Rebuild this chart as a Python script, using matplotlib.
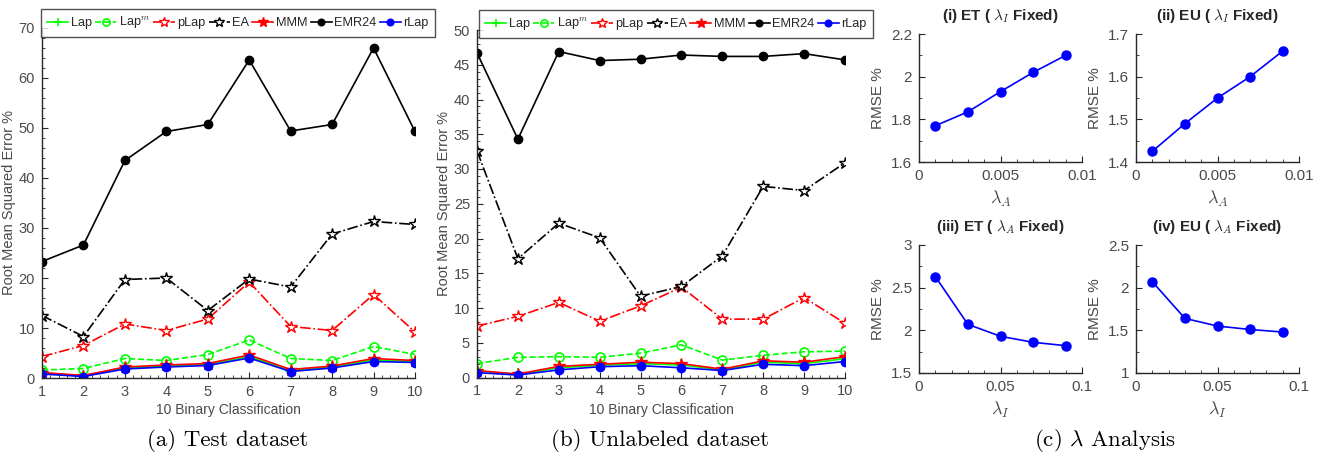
import matplotlib
matplotlib.use("Agg")
import matplotlib.pyplot as plt
from matplotlib.ticker import MultipleLocator, AutoMinorLocator

plt.rcParams['font.family'] = ['Liberation Sans', 'DejaVu Sans']
plt.rcParams['mathtext.fontset'] = 'cm'

# ---------------- data ----------------
classes = [1, 2, 3, 4, 5, 6, 7, 8, 9, 10]
series_names = ["Lap", "Lap$^{m}$", "pLap", "EA", "MMM", "EMR24", "rLap"]

test_lap   = [1.0, 0.4, 2.0, 2.4, 2.7, 4.3, 1.5, 2.2, 3.6, 3.3]
test_lapm  = [1.6, 1.9, 3.9, 3.5, 4.7, 7.6, 3.9, 3.5, 6.3, 4.7]
test_plap  = [4.3, 6.5, 10.8, 9.5, 11.8, 19.2, 10.3, 9.5, 16.7, 9.2]
test_ea    = [12.5, 8.3, 19.7, 20.0, 13.5, 19.8, 18.2, 28.8, 31.3, 30.7]
test_mmm   = [1.1, 0.5, 2.2, 2.6, 2.9, 4.6, 1.7, 2.4, 3.9, 3.5]
test_emr   = [23.3, 26.6, 43.5, 49.3, 50.7, 63.6, 49.4, 50.7, 66.0, 49.3]
test_rlap  = [0.8, 0.3, 1.8, 2.2, 2.5, 4.0, 1.3, 2.0, 3.3, 3.1]

unl_lap    = [0.9, 0.45, 1.4, 1.75, 2.0, 1.8, 1.1, 2.2, 2.0, 2.7]
unl_lapm   = [2.0, 2.9, 3.0, 2.9, 3.5, 4.7, 2.5, 3.2, 3.7, 3.8]
unl_plap   = [7.4, 8.8, 10.8, 8.1, 10.3, 13.0, 8.4, 8.4, 11.5, 7.8]
unl_ea     = [32.6, 17.1, 22.2, 20.1, 11.7, 13.1, 17.5, 27.5, 26.9, 30.9]
unl_mmm    = [1.0, 0.5, 1.6, 1.9, 2.2, 2.0, 1.2, 2.4, 2.2, 3.0]
unl_emr    = [46.7, 34.3, 46.9, 45.6, 45.8, 46.4, 46.2, 46.2, 46.6, 45.7]
unl_rlap   = [0.7, 0.35, 1.1, 1.55, 1.7, 1.4, 1.0, 1.9, 1.7, 2.3]

lambda_a = [0.001, 0.003, 0.005, 0.007, 0.009]
lambda_i = [0.01, 0.03, 0.05, 0.07, 0.09]
et_fixed_i = [1.77, 1.835, 1.93, 2.02, 2.10]
eu_fixed_i = [1.425, 1.49, 1.55, 1.60, 1.66]
et_fixed_a = [2.63, 2.07, 1.93, 1.86, 1.82]
eu_fixed_a = [2.07, 1.64, 1.55, 1.51, 1.48]

captions = ["(a) Test dataset", "(b) Unlabeled dataset", r"(c) $\lambda$ Analysis"]

# ---------------- figure ----------------
W, H = 1320, 459
fig = plt.figure(figsize=(W / 100, H / 100), dpi=100)

def px_axes(left, right, top, bottom):
    return fig.add_axes([left / W, 1 - bottom / H, (right - left) / W, (bottom - top) / H])

tick_col = '#4a4a4a'

def style(ax, labelsize=10.5):
    for s in ['top', 'right']:
        ax.spines[s].set_visible(False)
    for s in ['left', 'bottom']:
        ax.spines[s].set_color('#262626')
        ax.spines[s].set_linewidth(1.0)
    ax.tick_params(which='both', direction='in', colors='#262626', labelcolor=tick_col,
                   labelsize=labelsize)
    ax.tick_params(which='major', length=4, pad=5)
    ax.tick_params(which='minor', length=2)

styles = [
    dict(color=(0, 1, 0), ls='-', marker='+', ms=8, mew=1.2),
    dict(color=(0, 1, 0), ls='--', marker='o', ms=6.5, mfc='none', mew=1.2),
    dict(color=(1, 0, 0), ls='-.', marker='*', ms=9, mfc='white', mew=1.0),
    dict(color='black', ls='-.', marker='*', ms=9, mfc='white', mew=1.0),
    dict(color=(1, 0, 0), ls='-', marker='*', ms=9, mew=1.0),
    dict(color='black', ls='-', marker='o', ms=6),
    dict(color=(0, 0, 1), ls='-', marker='o', ms=6),
]

def big_panel(ax, data, ymax, ystep, legend_center):
    handles = []
    for vals, st, name in zip(data, styles, series_names):
        h, = ax.plot(classes, vals, lw=1.2, label=name, **st)
        handles.append(h)
    ax.set_xlim(1, 10)
    ax.set_ylim(0, ymax)
    ax.set_xticks(classes)
    ax.set_yticks(range(0, ymax + 1, ystep))
    ax.xaxis.set_minor_locator(MultipleLocator(0.2))
    ax.yaxis.set_minor_locator(AutoMinorLocator(5))
    style(ax)
    ax.set_xlabel("10 Binary Classification", fontsize=10, color=tick_col, labelpad=3)
    ax.set_ylabel("Root Mean Squared Error %", fontsize=10.5, color=tick_col, labelpad=2)
    leg = fig.legend(handles=handles, loc='center', ncol=7,
                     bbox_to_anchor=(legend_center[0] / W, 1 - legend_center[1] / H),
                     bbox_transform=fig.transFigure, fontsize=9.2, frameon=True,
                     fancybox=False, edgecolor='#262626', handlelength=1.65,
                     markerscale=0.8, handletextpad=0.2, columnspacing=0.25,
                     borderpad=0.45, borderaxespad=0)
    leg.get_frame().set_linewidth(1.0)
    for t in leg.get_texts():
        t.set_color('#262626')

axa = px_axes(42, 415, 28, 378)
big_panel(axa, [test_lap, test_lapm, test_plap, test_ea, test_mmm, test_emr, test_rlap],
          70, 10, (238, 23))

axb = px_axes(477, 845, 30, 377.5)
big_panel(axb, [unl_lap, unl_lapm, unl_plap, unl_ea, unl_mmm, unl_emr, unl_rlap],
          50, 5, (676, 24))

def small_panel(ax, x, y, title, xlabel, xlim, xticks, xticklabels, ylim, yticks, yticklabels):
    ax.plot(x, y, color=(0, 0, 1), lw=1.2, marker='o', ms=6.5)
    ax.set_xlim(*xlim)
    ax.set_ylim(*ylim)
    ax.set_xticks(xticks)
    ax.set_xticklabels(xticklabels)
    ax.set_yticks(yticks)
    ax.set_yticklabels(yticklabels)
    ax.xaxis.set_minor_locator(AutoMinorLocator(5))
    ax.yaxis.set_minor_locator(AutoMinorLocator(2))
    style(ax, labelsize=11)
    ax.set_title(title, fontsize=11, fontweight='bold', color='#262626', pad=10)
    ax.set_xlabel(xlabel, fontsize=13, color=tick_col, labelpad=4)
    ax.set_ylabel("RMSE %", fontsize=11, color=tick_col, labelpad=4)

ax1 = px_axes(919, 1082, 34, 162)
small_panel(ax1, lambda_a, et_fixed_i, r"(i) ET ( $\lambda_I$ Fixed)", r"$\lambda_A$",
            (0, 0.01), [0, 0.005, 0.01], ["0", "0.005", "0.01"],
            (1.6, 2.2), [1.6, 1.8, 2.0, 2.2], ["1.6", "1.8", "2", "2.2"])
ax2 = px_axes(1136, 1299, 34, 162)
small_panel(ax2, lambda_a, eu_fixed_i, r"(ii) EU ( $\lambda_I$ Fixed)", r"$\lambda_A$",
            (0, 0.01), [0, 0.005, 0.01], ["0", "0.005", "0.01"],
            (1.4, 1.7), [1.4, 1.5, 1.6, 1.7], ["1.4", "1.5", "1.6", "1.7"])
ax3 = px_axes(919, 1082, 245, 373)
small_panel(ax3, lambda_i, et_fixed_a, r"(iii) ET ( $\lambda_A$ Fixed)", r"$\lambda_I$",
            (0, 0.1), [0, 0.05, 0.1], ["0", "0.05", "0.1"],
            (1.5, 3.0), [1.5, 2.0, 2.5, 3.0], ["1.5", "2", "2.5", "3"])
ax4 = px_axes(1136, 1299, 245, 373)
small_panel(ax4, lambda_i, eu_fixed_a, r"(iv) EU ( $\lambda_A$ Fixed)", r"$\lambda_I$",
            (0, 0.1), [0, 0.05, 0.1], ["0", "0.05", "0.1"],
            (1.0, 2.5), [1.0, 1.5, 2.0, 2.5], ["1", "1.5", "2", "2.5"])

cap_x = [228, 660, 1105]
for cx, cap in zip(cap_x, captions):
    fig.text(cx / W, 1 - 440 / H, cap, ha='center', va='center', fontsize=16.5,
             family=['cmr10', 'DejaVu Serif'], color='black')

fig.savefig("out.png", dpi=100)
